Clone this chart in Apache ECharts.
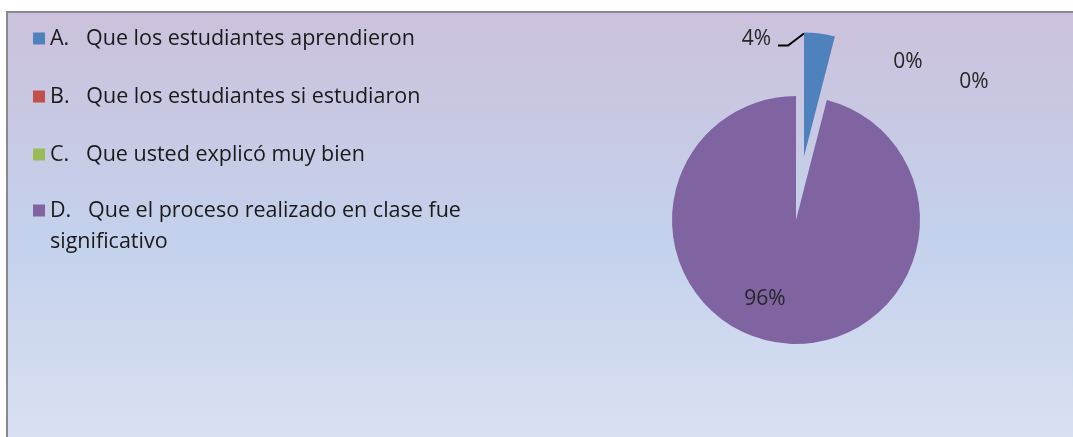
<!DOCTYPE html>
<html>
<head>
<meta charset="utf-8">
<script src="https://cdn.jsdelivr.net/npm/echarts@6/dist/echarts.min.js"></script>
<style>
html,body{margin:0;padding:0;background:#fff;}
#chart{width:1073px;height:437px;}
</style>
</head>
<body>
<div id="chart"></div>
<script>
const categories = [
  'A. Que los estudiantes aprendieron',
  'B. Que los estudiantes si estudiaron',
  'C. Que usted explicó muy bien',
  'D. Que el proceso realizado en clase fue significativo'
];
const legendLabels = [
  'A.   Que los estudiantes aprendieron',
  'B.   Que los estudiantes si estudiaron',
  'C.   Que usted explicó muy bien',
  'D.   Que el proceso realizado en clase fue\nsignificativo'
];
const values = [4, 0, 0, 96];
const colors = ['#4f81bd', '#c0504d', '#9bbb59', '#8064a2'];

const FONT = 'Open Sans';
const TXT = '#1a1a1a';
const cx = 796, cy = 220, R = 124, OFF = 64;
const total = values.reduce((a, b) => a + b, 0);
const aMid = (values[0] / total) * Math.PI; // half of slice A's angle (rad)
const ex = cx + OFF * Math.sin(aMid);       // exploded slice centre
const ey = cy - OFF * Math.cos(aMid);
const aTopX = ex, aTopY = ey - R;           // outer corner of slice A at 12 o'clock

const chart = echarts.init(document.getElementById('chart'), null, {renderer: 'canvas'});
const fmt = name => legendLabels[categories.indexOf(name)];
const legendData = idx => idx.map(i => ({name: categories[i], itemStyle: {color: colors[i]}}));

const labelBase = {fontFamily: FONT, fontSize: 21, color: '#262626',
  formatter: p => Math.round(p.percent) + '%'};

const option = {
  animation: false,
  backgroundColor: '#ffffff',
  graphic: [{
    type: 'rect',
    z: -10,
    silent: true,
    shape: {x: 7, y: 12, width: 1100, height: 500},
    style: {
      fill: new echarts.graphic.LinearGradient(0, 0, 0, 1, [
        {offset: 0, color: '#ccc1dc'},
        {offset: 0.45, color: '#c4d1ec'},
        {offset: 1, color: '#e0e6f4'}
      ]),
      stroke: '#8a8a8a',
      lineWidth: 2
    }
  }],
  legend: [{
    data: legendData([0, 1, 2]),
    orient: 'vertical',
    left: 33, top: 26, padding: 0,
    itemWidth: 12, itemHeight: 12, itemGap: 33,
    icon: 'rect', selectedMode: false,
    formatter: fmt,
    textStyle: {fontFamily: FONT, fontSize: 21.5, color: TXT, lineHeight: 25}
  }, {
    data: legendData([3]),
    orient: 'vertical',
    left: 33, top: 164, padding: 0,
    itemWidth: 12, itemHeight: 12,
    icon: 'rect', selectedMode: false,
    formatter: name => '\n' + fmt(name),
    textStyle: {fontFamily: FONT, fontSize: 21.5, color: TXT, lineHeight: 31}
  }],
  series: [{
    // main pie: slice A left as a gap (it is drawn exploded by the next series)
    type: 'pie',
    name: 'main',
    center: [cx, cy],
    radius: R,
    startAngle: 90,
    clockwise: true,
    silent: true,
    avoidLabelOverlap: false,
    itemStyle: {borderWidth: 0},
    label: Object.assign({show: true}, labelBase),
    labelLine: {show: false},
    labelLayout: function (p) {
      const i = p.dataIndex;
      if (i === 1) return {x: cx + 112, y: cy - 157.5, align: 'center', verticalAlign: 'middle'};
      if (i === 2) return {x: cx + 178, y: cy - 137.5, align: 'center', verticalAlign: 'middle'};
      return {x: cx - 31, y: cy + 79, align: 'center', verticalAlign: 'middle'};
    },
    data: categories.map((n, i) => ({
      name: n,
      value: values[i],
      itemStyle: {color: i === 0 ? 'rgba(0,0,0,0)' : colors[i]},
      label: i === 0 ? {show: false} : (i === 3 ? {position: 'inside'} : {position: 'outside'})
    }))
  }, {
    // exploded slice A
    type: 'pie',
    name: 'exploded',
    center: [ex, ey],
    radius: R,
    startAngle: 90,
    clockwise: true,
    silent: true,
    avoidLabelOverlap: false,
    itemStyle: {borderWidth: 0},
    label: Object.assign({show: true, position: 'outside'}, labelBase),
    labelLine: {show: true, lineStyle: {color: '#000000', width: 2}},
    labelLayout: function (p) {
      return {
        x: aTopX - 33, y: aTopY + 7, align: 'right', verticalAlign: 'middle',
        labelLinePoints: [[aTopX, aTopY + 1], [aTopX - 16, aTopY + 13], [aTopX - 26, aTopY + 13]]
      };
    },
    data: categories.map((n, i) => ({
      name: n,
      value: values[i],
      itemStyle: {color: i === 0 ? colors[0] : 'rgba(0,0,0,0)'},
      label: {show: i === 0},
      labelLine: {show: i === 0}
    }))
  }]
};
chart.setOption(option);
</script>
</body>
</html>
